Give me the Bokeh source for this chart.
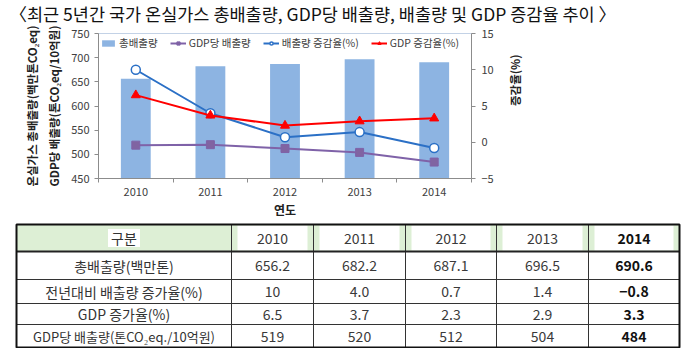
import math
from bokeh.plotting import figure
from bokeh.models import Range1d, LinearAxis, FixedTicker, Legend, LegendItem, Plot
from bokeh.layouts import column
from bokeh.embed import file_html
from bokeh.resources import INLINE
from bokeh.core.properties import value

# ---------------- data ----------------
years = [2010, 2011, 2012, 2013, 2014]
total_emissions = [656.2, 682.2, 687.1, 696.5, 690.6]      # 백만톤 CO2eq (left axis, bars)
emission_per_gdp = [519, 520, 512, 504, 484]               # 톤CO2eq/10억원 (left axis, line)
emission_growth = [10, 4.0, 0.7, 1.4, -0.8]                # % (right axis)
gdp_growth = [6.5, 3.7, 2.3, 2.9, 3.3]                     # % (right axis)

left_ticks = [450, 500, 550, 600, 650, 700, 750]
right_ticks = [-5, 0, 5, 10, 15]

title_text = "〈최근 5년간 국가 온실가스 총배출량, GDP당 배출량, 배출량 및 GDP 증감율 추이 〉"
legend_labels = ["총배출량", "GDP당 배출량", "배출량 증감율(%)", "GDP 증감율(%)"]
left_label_inner = "GDP당 배출량(톤CO₂eq/10억원)"
left_label_outer = "온실가스 총배출량(백만톤CO₂eq)"
right_label = "증감율(%)"
x_label = "연도"

table_header = "구분"
table_row_labels = ["총배출량(백만톤)", "전년대비 배출량 증가율(%)", "GDP 증가율(%)",
                    "GDP당 배출량(톤CO₂eq./10억원)"]
table_rows = [total_emissions, emission_growth, gdp_growth, emission_per_gdp]

FONT = "Noto Sans CJK KR"
W = 684
HAS_FRAME_ALIGN = "frame_align" in Plot.properties()


def no_align(fig):
    if HAS_FRAME_ALIGN:
        fig.frame_align = False


# ---------------- title ----------------
TT = 26
tp = figure(width=W, height=TT, x_range=Range1d(0, W), y_range=Range1d(TT, 0),
            x_axis_type=None, y_axis_type=None, output_backend="svg",
            toolbar_location=None, min_border=0)
no_align(tp)
tp.outline_line_color = None
tp.grid.visible = False
tp.text(x=[9], y=[12.5], text=[title_text], text_font=value(FONT), text_font_size="17.5px",
        text_baseline="middle", text_align="left", text_color="#111111")

# ---------------- chart ----------------
n = len(years)
xc = [i + 0.5 for i in range(n)]

p = figure(width=W, height=194, x_range=Range1d(0, n), y_range=Range1d(450, 750),
           output_backend="svg", toolbar_location=None,
           min_border_left=98, min_border_right=213, min_border_top=7, min_border_bottom=40)
no_align(p)
p.extra_y_ranges = {"pct": Range1d(-5, 15)}
p.xgrid.visible = False
p.ygrid.visible = False
p.outline_line_color = "#C3D2E6"
p.outline_line_width = 1

bars = p.vbar(x=xc, top=total_emissions, bottom=450, width=0.4,
              fill_color="#8DB4E2", line_color=None)

purple = "#7F62A8"
l1 = p.line(xc, emission_per_gdp, line_color=purple, line_width=2)
s1 = p.scatter(xc, emission_per_gdp, marker="square", size=8, fill_color="#8064A2",
               line_color=purple)

blue = "#2B70C6"
l2 = p.line(xc, emission_growth, y_range_name="pct", line_color=blue, line_width=2)
s2 = p.scatter(xc, emission_growth, y_range_name="pct", marker="circle", size=9,
               fill_color="white", line_color=blue, line_width=1.5)

red = "#FF0000"
l3 = p.line(xc, gdp_growth, y_range_name="pct", line_color=red, line_width=2)
s3 = p.scatter(xc, gdp_growth, y_range_name="pct", marker="triangle", size=9,
               fill_color=red, line_color=red)

axis_gray = "#8C8C8C"
tick_color = "#404040"

# left axis (inner)
ly = p.yaxis[0]
ly.ticker = FixedTicker(ticks=left_ticks)
ly.axis_label = left_label_inner
ly.axis_label_text_font = FONT
ly.axis_label_text_font_style = "bold"
ly.axis_label_text_font_size = "11.5px"
ly.axis_label_text_color = "#222222"
ly.axis_label_standoff = 6
ly.major_label_text_font = FONT
ly.major_label_text_font_size = "11px"
ly.major_label_text_color = tick_color
ly.axis_line_color = axis_gray
ly.major_tick_line_color = axis_gray
ly.major_tick_out = 4
ly.major_tick_in = 0
ly.minor_tick_line_color = None
ly.major_label_standoff = 5

# left axis (outer label only)
lo = LinearAxis(ticker=FixedTicker(ticks=[]), axis_label=left_label_outer,
                axis_line_color=None, major_tick_line_color=None, minor_tick_line_color=None,
                major_tick_out=0, major_label_standoff=0, axis_label_standoff=4,
                axis_label_text_font=FONT, axis_label_text_font_style="bold",
                axis_label_text_font_size="11.5px", axis_label_text_color="#222222")
p.add_layout(lo, "left")

# right axis
ry = LinearAxis(y_range_name="pct", ticker=FixedTicker(ticks=right_ticks),
                axis_label=right_label,
                axis_label_text_font=FONT, axis_label_text_font_style="bold",
                axis_label_text_font_size="11.5px", axis_label_text_color="#222222",
                axis_label_standoff=18,
                major_label_text_font=FONT, major_label_text_font_size="11px",
                major_label_text_color=tick_color, major_label_standoff=6,
                axis_line_color=axis_gray, major_tick_line_color=axis_gray,
                major_tick_out=4, major_tick_in=0, minor_tick_line_color=None)
if "axis_label_orientation" in LinearAxis.properties():
    ry.axis_label_orientation = math.pi / 2
p.add_layout(ry, "right")

# x axis
xa = p.xaxis[0]
xa.ticker = FixedTicker(ticks=xc, minor_ticks=list(range(n + 1)))
xa.major_label_overrides = {x: str(y) for x, y in zip(xc, years)}
xa.major_tick_line_color = None
xa.major_tick_out = 0
xa.major_tick_in = 0
xa.minor_tick_line_color = axis_gray
xa.minor_tick_out = 4
xa.minor_tick_in = 0
xa.axis_line_color = axis_gray
xa.major_label_text_font = FONT
xa.major_label_text_font_size = "11px"
xa.major_label_text_color = tick_color
xa.major_label_standoff = 5
xa.axis_label = x_label
xa.axis_label_text_font = FONT
xa.axis_label_text_font_style = "bold"
xa.axis_label_text_font_size = "12px"
xa.axis_label_text_color = "#222222"
xa.axis_label_standoff = 2

legend = Legend(items=[
    LegendItem(label=legend_labels[0], renderers=[bars]),
    LegendItem(label=legend_labels[1], renderers=[l1, s1]),
    LegendItem(label=legend_labels[2], renderers=[l2, s2]),
    LegendItem(label=legend_labels[3], renderers=[l3, s3]),
], orientation="horizontal", location="top_left",
    label_text_font=FONT, label_text_font_size="10.5px", label_text_color="#404040",
    glyph_width=16, glyph_height=8, label_standoff=3, spacing=12,
    padding=2, margin=2, border_line_color=None, background_fill_alpha=0)
p.add_layout(legend)

# ---------------- table ----------------
TH = 128
t = figure(width=W, height=TH, x_range=Range1d(0, W), y_range=Range1d(TH, 0),
           x_axis_type=None, y_axis_type=None, output_backend="svg",
           toolbar_location=None, min_border=0)
no_align(t)
t.outline_line_color = None
t.grid.visible = False

col_x = [16, 231, 313, 405, 496, 588, 679]
row_y = [4, 31, 59, 83, 104, 127]
green = "#DDEFD5"

# header background
t.quad(left=[col_x[0]], right=[col_x[-1]], top=[row_y[0]], bottom=[row_y[1]],
       fill_color=green, line_color=None)
t.quad(left=[c + 6 for c in col_x[1:-1]], right=[c - 6 for c in col_x[2:]],
       top=[row_y[0] + 1] * n, bottom=[row_y[1] - 1] * n, fill_color="white", line_color=None)
hx = (col_x[0] + col_x[1]) / 2
hy = (row_y[0] + row_y[1]) / 2
t.quad(left=[hx - 16], right=[hx + 16], top=[hy - 9], bottom=[hy + 9],
       fill_color="white", line_color=None)

# grid lines
t.segment(x0=col_x[1:-1], x1=col_x[1:-1], y0=[row_y[0]] * (len(col_x) - 2),
          y1=[row_y[-1]] * (len(col_x) - 2), line_color="#333333", line_width=1)
t.segment(x0=[col_x[0]] * (len(row_y) - 2), x1=[col_x[-1]] * (len(row_y) - 2),
          y0=row_y[1:-1], y1=row_y[1:-1], line_color="#333333", line_width=1)
t.segment(x0=[col_x[0]], x1=[col_x[-1]], y0=[row_y[1]], y1=[row_y[1]],
          line_color="#222222", line_width=2)
t.quad(left=[col_x[0]], right=[col_x[-1]], top=[row_y[0]], bottom=[row_y[-1]],
       fill_alpha=0, line_color="#111111", line_width=2)


def fmt(v):
    return str(v).replace("-", "−")


cx = [(col_x[i] + col_x[i + 1]) / 2 for i in range(len(col_x) - 1)]
cy = [(row_y[i] + row_y[i + 1]) / 2 for i in range(len(row_y) - 1)]

txt_x, txt_y, txt_s, txt_c, txt_w, txt_f = [], [], [], [], [], []


def add(x, y, s, c, w, f="14px"):
    txt_x.append(x); txt_y.append(y); txt_s.append(s)
    txt_c.append(c); txt_w.append(w); txt_f.append(f)


add(cx[0], cy[0], table_header, "#333333", "normal")
for j, yr in enumerate(years):
    last = j == n - 1
    add(cx[j + 1], cy[0], str(yr), "#111111" if last else "#3a3a3a",
        "bold" if last else "normal")
for r, (lab, vals) in enumerate(zip(table_row_labels, table_rows)):
    add(cx[0], cy[r + 1], lab, "#333333", "normal",
        "13px" if r == len(table_rows) - 1 else "14px")
    for j, v in enumerate(vals):
        last = j == n - 1
        add(cx[j + 1], cy[r + 1], fmt(v), "#111111" if last else "#3a3a3a",
            "bold" if last else "normal")

t.text(x=txt_x, y=txt_y, text=txt_s, text_color=txt_c, text_font_style=txt_w,
       text_font=value(FONT), text_font_size=txt_f,
       text_align="center", text_baseline="middle")

layout = column(tp, p, t, spacing=0)
open("out.html", "w").write(file_html(layout, INLINE))
